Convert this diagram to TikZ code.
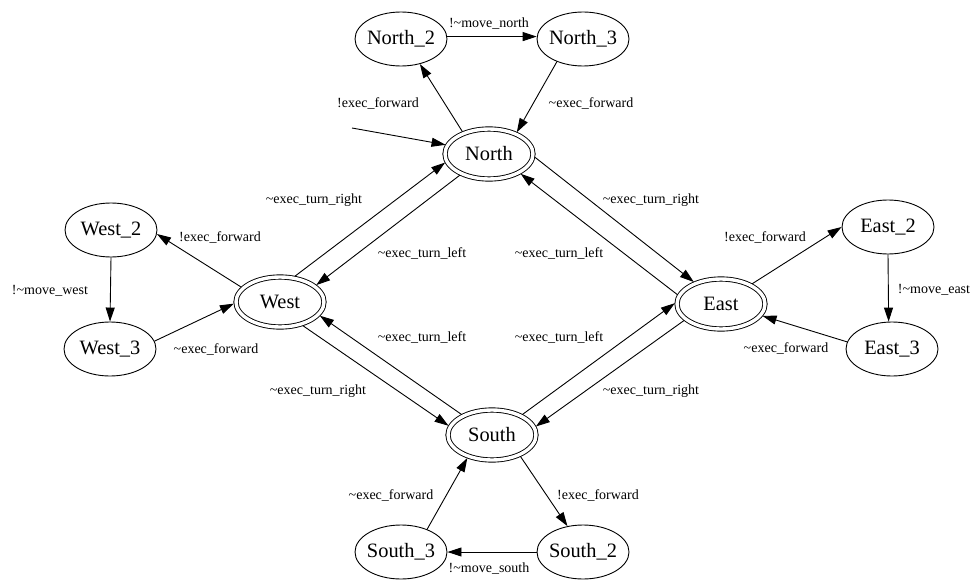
\documentclass[tikz,border=0pt]{standalone}
\usepackage{fontspec}
\setmainfont{Liberation Serif}
\usetikzlibrary{arrows.meta,shapes.geometric}
\newcommand\tld{\textasciitilde}
\begin{document}
\begin{tikzpicture}[x=1pt,y=-1pt,
  state/.style={ellipse,draw,line width=0.9pt,minimum width=92pt,minimum height=54pt,
    inner xsep=-4pt,inner ysep=0pt,font=\fontsize{20.4}{22}\selectfont},
  home/.style={state,double,double distance=3.4pt,minimum width=88pt,minimum height=50pt,outer sep=2.2pt},
  trans/.style={line width=0.9pt,-{Triangle[length=14pt,width=9pt]}},
  lbl/.style={font=\fontsize{14}{16}\selectfont,inner sep=0pt}]
\useasboundingbox (0,0) rectangle (974,583);

% states
\node[home]  (N)  at (489,154) {North};
\node[home]  (W)  at (280,302) {West};
\node[home]  (E)  at (721,304) {East};
\node[home]  (S)  at (492,435) {South};
\node[state] (N2) at (401,39)  {North\_2};
\node[state] (N3) at (583,39)  {North\_3};
\node[state] (W2) at (111,230) {West\_2};
\node[state] (W3) at (110,349) {West\_3};
\node[state] (E2) at (888,227) {East\_2};
\node[state] (E3) at (892,349) {East\_3};
\node[state] (S2) at (583,552) {South\_2};
\node[state] (S3) at (401,552) {South\_3};
\coordinate (init) at (352,128);

% transitions
\draw[trans] (init) -- (N.168);
\draw[trans] (N.140) -- (N2.-53);
\draw[trans] (N2.3) -- (N3.177);
\draw[trans] (N3.221) -- (N.38);
\draw[trans] (W.60) -- (N.191);
\draw[trans] (N.216) -- (W.25);
\draw[trans] (N.-4) -- (E.141);
\draw[trans] (E.168) -- (N.-32);
\draw[trans] (W.159) -- (W2.-5);
\draw[trans] (W2.south) -- (W3.north);
\draw[trans] (W3.10) -- (W.182);
\draw[trans] (W.-46) -- (S.168);
\draw[trans] (S.146) -- (W.-19);
\draw[trans] (E.204) -- (S.11);
\draw[trans] (S.34) -- (E.179);
\draw[trans] (E.33) -- (E2.180);
\draw[trans] (E2.-90) -- (E3.97);
\draw[trans] (E3.171) -- (E.-16);
\draw[trans] (S.-37) -- (S2.121);
\draw[trans] (S2.180) -- (S3.0);
\draw[trans] (S3.41) -- (S.223);

% transition labels
\node[lbl] (l1)  at (378,103) {!exec\_forward};
\node[lbl] (l2)  at (489,24)  {!\tld move\_north};
\node[lbl] (l3)  at (591,103) {\tld exec\_forward};
\node[lbl] (l4)  at (314,200) {\tld exec\_turn\_right};
\node[lbl] (l5)  at (422,253) {\tld exec\_turn\_left};
\node[lbl] (l6)  at (559,253) {\tld exec\_turn\_left};
\node[lbl] (l7)  at (651,200) {\tld exec\_turn\_right};
\node[lbl] (l8)  at (220,237) {!exec\_forward};
\node[lbl] (l9)  at (50,291)  {!\tld move\_west};
\node[lbl] (l10) at (216,349) {\tld exec\_forward};
\node[lbl] (l11) at (422,337) {\tld exec\_turn\_left};
\node[lbl] (l12) at (559,337) {\tld exec\_turn\_left};
\node[lbl] (l13) at (318,391) {\tld exec\_turn\_right};
\node[lbl] (l14) at (651,391) {\tld exec\_turn\_right};
\node[lbl] (l15) at (765,237) {!exec\_forward};
\node[lbl] (l16) at (934,290) {!\tld move\_east};
\node[lbl] (l17) at (786,348) {\tld exec\_forward};
\node[lbl] (l18) at (391,495) {\tld exec\_forward};
\node[lbl] (l19) at (598,495) {!exec\_forward};
\node[lbl] (l20) at (489,569) {!\tld move\_south};
\end{tikzpicture}
\end{document}
